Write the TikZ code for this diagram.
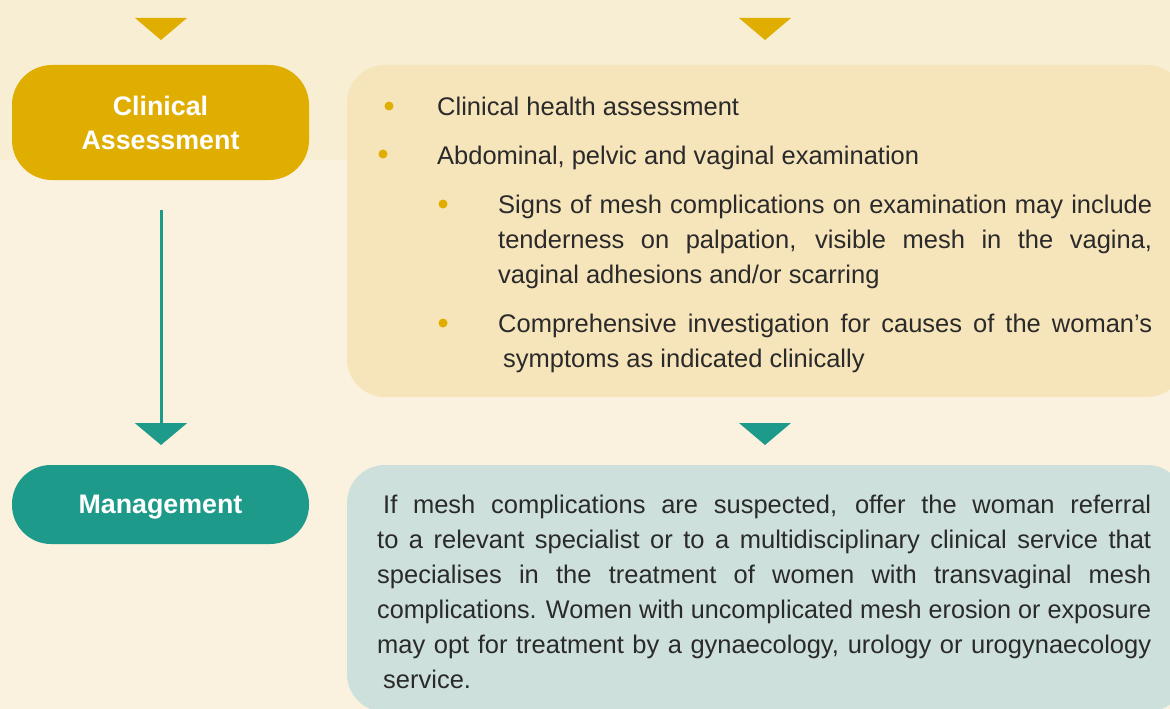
\documentclass[tikz,border=0pt]{standalone}
\usepackage{fontspec}
\setmainfont{Liberation Sans}
\usetikzlibrary{arrows.meta}
\definecolor{bgtop}{HTML}{F7EED4}
\definecolor{bgbot}{HTML}{FAF2DF}
\definecolor{goldc}{HTML}{E0AE00}
\definecolor{yboxc}{HTML}{F6E4BA}
\definecolor{tealc}{HTML}{1E9A8A}
\definecolor{tboxc}{HTML}{CDE0DB}
\definecolor{txtc}{HTML}{2A2A2A}
\newlength\fitw
\newcommand\fitline[2]{\settowidth\fitw{#2}\ifdim\fitw>#1\relax\resizebox{#1}{\height}{#2}\else\makebox[#1][s]{#2}\fi}
\tikzset{
  labelbox/.style={fill=#1, draw=none, minimum width=297pt, text=white, align=center,
    font=\fontsize{26.8}{34}\selectfont\bfseries, inner sep=0pt},
  panel/.style={fill=#1, draw=none, rounded corners=38pt, inner sep=0pt},
  body/.style={text=txtc, font=\fontsize{25.5}{35}\selectfont, inner sep=0pt, align=left, anchor=base west},
  bullet/.style={circle, fill=goldc, draw=none, minimum size=9pt, inner sep=0pt},
}
\begin{document}
\begin{tikzpicture}[x=1pt,y=-1pt]
\useasboundingbox (0,0) rectangle (1170,709);
\clip (0,0) rectangle (1170,709);
\fill[bgbot] (0,0) rectangle (1170,709);
\fill[bgtop] (0,0) rectangle (1170,160);

% top arrowheads
\fill[goldc] (135,18) -- (187,18) -- (161,40) -- cycle;
\fill[goldc] (739,18) -- (791,18) -- (765,40) -- cycle;

% panels
\node[panel=yboxc, minimum width=838pt, minimum height=332pt] (ypanel) at (766,231) {};
\node[panel=tboxc, minimum width=838pt, minimum height=247pt] (tpanel) at (766,588.5) {};

% left label boxes
\node[labelbox=goldc, minimum height=115pt, rounded corners=40pt] (ca) at (160.5,122.5) {\raisebox{-3pt}{Clinical}\\\raisebox{-3pt}{Assessment}};
\node[labelbox=tealc, minimum height=79pt, rounded corners=39pt, text height=18pt, text depth=0pt] (mg) at (160.5,504.5) {Management};

% connector
\coordinate (lstart) at (161,210);
\coordinate (lend) at (161,445);
\draw[tealc, line width=3pt, -{Triangle[width=52pt,length=22pt]}] (lstart) -- (lend);

% right teal arrowhead
\fill[tealc] (739,423) -- (791,423) -- (765,445) -- cycle;

% bullets
\node[bullet] (b1) at (389,106) {};
\node[bullet] (b2) at (383,154) {};
\node[bullet] (b3) at (443,204) {};
\node[bullet] (b4) at (443,323) {};

% (base anchor of a multi-line node = baseline of its last line)
\node[body] (t1) at (437,115) {Clinical health assessment};
\node[body] (t2) at (437,164) {Abdominal, pelvic and vaginal examination};
\node[body] (t3) at (498,283) {\fitline{654pt}{Signs of mesh complications on examination may include}\\
\fitline{654pt}{tenderness on palpation, visible mesh in the vagina,}\\
vaginal adhesions and/or scarring};
\node[body] (t4) at (498,367) {\fitline{654pt}{Comprehensive investigation for causes of the woman’s}\\
\hspace*{5pt}symptoms as indicated clinically};

\node[body] (t5) at (377,688) {\hspace*{6pt}\fitline{768pt}{If mesh complications are suspected, offer the woman referral}\\
\fitline{774pt}{to a relevant specialist or to a multidisciplinary clinical service that}\\
\fitline{774pt}{specialises in the treatment of women with transvaginal mesh}\\
\fitline{774pt}{complications. Women with uncomplicated mesh erosion or exposure}\\
\fitline{774pt}{may opt for treatment by a gynaecology, urology or urogynaecology}\\
\hspace*{6pt}service.};
\end{tikzpicture}
\end{document}
